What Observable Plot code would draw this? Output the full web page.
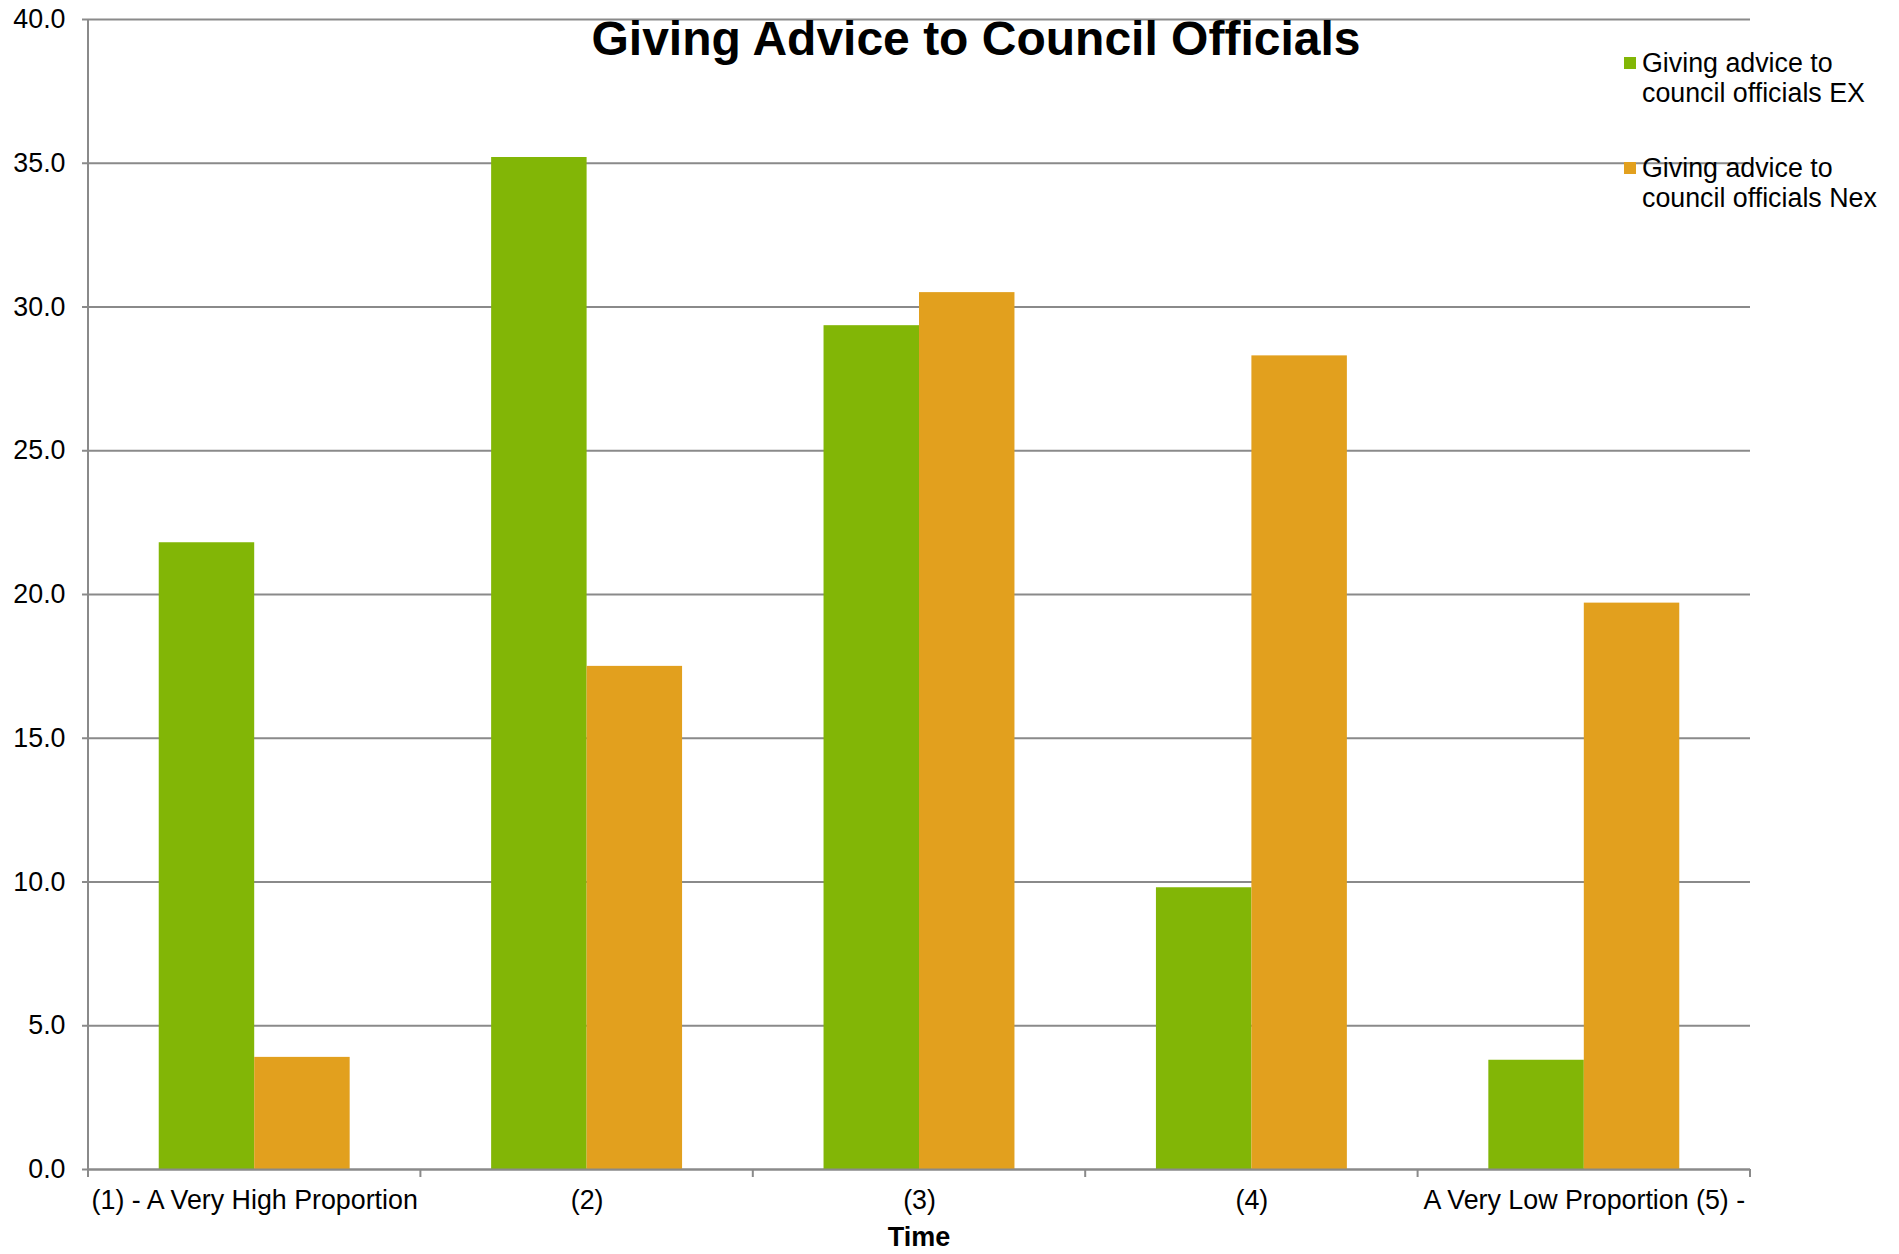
<!DOCTYPE html>
<html>
<head>
<meta charset="utf-8">
<script src="https://cdn.jsdelivr.net/npm/d3@7"></script>
<script src="https://cdn.jsdelivr.net/npm/@observablehq/plot@0.6"></script>
<style>
  html, body { margin: 0; padding: 0; background: #fff; }
  #wrap { position: relative; width: 1899px; height: 1254px; font-family: "Liberation Sans", Arial, sans-serif; color: #000; }
  #chart { position: absolute; left: 0; top: 0; }
  .title { position: absolute; left: 976px; top: 15px; transform: translateX(-50%); font-size: 48px; font-weight: bold; line-height: 48px; white-space: nowrap; }
  .xlabel { position: absolute; left: 919px; top: 1224px; transform: translateX(-50%); font-size: 27px; font-weight: bold; line-height: 27px; }
  .legend { position: absolute; left: 1624px; top: 48px; }
  .entry { position: relative; height: 105px; }
  .swatch { position: absolute; left: 0; top: 9px; width: 12px; height: 12px; }
  .label { position: absolute; left: 18px; top: 0; font-size: 26.8px; line-height: 30px; white-space: nowrap; }
</style>
</head>
<body>
<div id="wrap">
  <div id="chart"></div>
  <div class="title">Giving Advice to Council Officials</div>
  <div class="xlabel">Time</div>
  <div class="legend" id="legend"></div>
</div>
<script>
const categories = ["(1) - A Very High Proportion", "(2)", "(3)", "(4)", "A Very Low Proportion (5) -"];
const seriesNames = ["Giving advice to council officials EX", "Giving advice to council officials Nex"];
const seriesLines = [["Giving advice to", "council officials EX"], ["Giving advice to", "council officials Nex"]];
const exValues = [21.8, 35.2, 29.35, 9.8, 3.8];
const nexValues = [3.9, 17.5, 30.5, 28.3, 19.7];
const yTicks = [0, 5, 10, 15, 20, 25, 30, 35, 40];
const colors = ["#82b606", "#e2a01e"];

const W = 1899, H = 1254;
const mL = 88, mR = 149, mT = 19, mB = 85;
const bw = (W - mL - mR) / categories.length;
const barW = bw * 0.2872;
const outer = (bw - 2 * barW) / 2;

const exData = categories.map((c, i) => ({category: c, series: seriesNames[0], value: exValues[i]}));
const nexData = categories.map((c, i) => ({category: c, series: seriesNames[1], value: nexValues[i]}));

const axisColor = "#8a8a8a";

function frameAxes(index, scales, values, dim) {
  const x = scales.x, y = scales.y;
  const step = x.bandwidth();
  const bounds = categories.map(c => x(c)).concat([x(categories[categories.length - 1]) + step]);
  const y0 = y(0), yTop = y(40);
  const g = d3.create("svg:g").attr("stroke", axisColor).attr("stroke-width", 2);
  g.append("line").attr("x1", bounds[0]).attr("x2", bounds[0]).attr("y1", yTop).attr("y2", y0 + 8);
  for (const b of bounds) {
    g.append("line").attr("x1", b).attr("x2", b).attr("y1", y0).attr("y2", y0 + 8);
  }
  return g.node();
}

const plot = Plot.plot({
  width: W, height: H,
  marginLeft: mL, marginRight: mR, marginTop: mT, marginBottom: mB,
  style: {fontFamily: "'Liberation Sans', Arial, sans-serif", fontSize: "26.8px", color: "#000", background: "transparent"},
  x: {type: "band", domain: categories, padding: 0, round: false},
  y: {domain: [0, 40], round: false},
  marks: [
    Plot.gridY(yTicks, {stroke: axisColor, strokeOpacity: 1, strokeWidth: 2}),
    Plot.barY(exData, {x: "category", y: "value", fill: colors[0], insetLeft: outer, insetRight: bw - outer - barW}),
    Plot.barY(nexData, {x: "category", y: "value", fill: colors[1], insetLeft: outer + barW, insetRight: outer}),
    Plot.ruleY([0], {stroke: axisColor, strokeWidth: 2}),
    Plot.axisY(yTicks, {tickFormat: d => d.toFixed(1), tickSize: 6, tickPadding: 17, stroke: axisColor, strokeWidth: 2, fill: "#000", label: null}),
    Plot.axisX({tickSize: 0, tickPadding: 20, fill: "#000", label: null}),
    frameAxes
  ]
});
document.getElementById("chart").appendChild(plot);

const legend = document.getElementById("legend");
seriesNames.forEach((name, i) => {
  const e = document.createElement("div");
  e.className = "entry";
  const s = document.createElement("div");
  s.className = "swatch";
  s.style.background = colors[i];
  const l = document.createElement("div");
  l.className = "label";
  l.innerHTML = seriesLines[i].join("<br>");
  e.appendChild(s); e.appendChild(l);
  legend.appendChild(e);
});
</script>
</body>
</html>
